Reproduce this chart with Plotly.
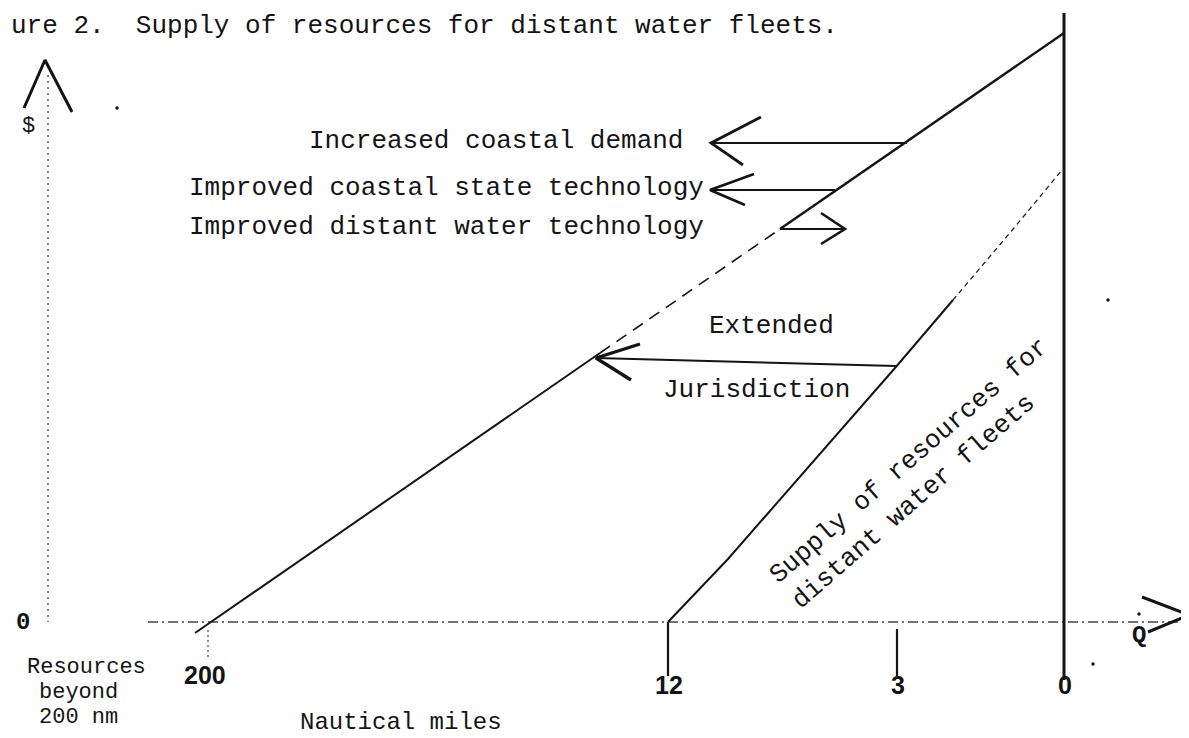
import plotly.graph_objects as go

# ---- diagram geometry (horizontal position, vertical position measured downward) ----
# supply line 1 (upper, "Resources beyond 200 nm" to top of the 0-mile line)
sup1_solid_low_x = [187, 592]
sup1_solid_low_y = [625, 345]
sup1_dash_x = [592, 772]
sup1_dash_y = [345, 221]
sup1_solid_high_x = [772, 1056]
sup1_solid_high_y = [221, 25]

# supply line 2 (from 12 nm)
sup2_solid_x = [660, 720, 887, 945]
sup2_solid_y = [614, 551, 360, 292]
sup2_dot_x = [945, 1006, 1054]
sup2_dot_y = [292, 220, 162]

# vertical boundary at 0 nm
zero_x = [1056, 1056]
zero_y = [5, 672]

# axes
yaxis_x = [40, 40]
yaxis_y = [67, 614]
xaxis_x = [140, 1178]
xaxis_y = [614, 614]

# tick marks along the nautical-miles axis
tick_labels = ["200", "12", "3", "0"]
tick_pos = [200, 660, 889, 1056]
tick_label_y = [667, 677, 677, 677]

# shift arrows
shift_labels = ["Increased coastal demand",
                "Improved coastal state technology",
                "Improved distant water technology"]
shift_label_x = [677, 179, 179]
shift_label_anchor = ["right", "left", "left"]
shift_y = [135, 182, 221]
shift_from = [899, 827, 772]
shift_to = [703, 702, 837]

ej_from = (888, 358)
ej_to = (588, 350)

caption_lines = ["Resources", "beyond", "200 nm"]
caption_x = [17, 29, 29]
caption_y = [659, 684, 709]

INK = "#141414"
MONO = "Liberation Mono, Courier New, monospace"
FS = 26

fig = go.Figure()


def seg(xs, ys, width=2.0, dash="solid", color=INK):
    fig.add_trace(go.Scatter(x=xs, y=ys, mode="lines",
                             line=dict(color=color, width=width, dash=dash),
                             hoverinfo="skip", showlegend=False))


# axes
seg(yaxis_x, yaxis_y, width=1.3, dash="2px,4px", color="#444")
seg(xaxis_x, xaxis_y, width=1.3, dash="10px,4px,2px,4px", color="#444")

# y-axis arrowhead (^) and x-axis arrowhead (>)
seg([16, 37, 64], [100, 52, 104], width=3)
seg([1134, 1181, 1140], [589, 607, 624], width=3)

# vertical 0-mile line
seg(zero_x, zero_y, width=3)

# supply line 1
seg(sup1_solid_low_x, sup1_solid_low_y, width=2)
seg(sup1_dash_x, sup1_dash_y, width=1.6, dash="12px,8px")
seg(sup1_solid_high_x, sup1_solid_high_y, width=2.4)

# supply line 2
seg(sup2_solid_x, sup2_solid_y, width=2)
seg(sup2_dot_x, sup2_dot_y, width=1.2, dash="5px,4px")

# ticks
seg([tick_pos[0], tick_pos[0]], [622, 652], width=1.2, dash="2px,3px", color="#444")
seg([tick_pos[1], tick_pos[1]], [614, 668], width=2.2)
seg([tick_pos[2], tick_pos[2]], [621, 668], width=2.2)

# shift arrows
for yv, xf, xt in zip(shift_y, shift_from, shift_to):
    seg([xf, xt], [yv, yv], width=1.8)
seg([753, 703, 735], [109, 135, 157], width=2.8)
seg([746, 702, 737], [166, 182, 197], width=2.6)
seg([813, 837, 813], [205, 221, 236], width=2.6)

# extended jurisdiction arrow
seg([ej_from[0], ej_to[0]], [ej_from[1], ej_to[1]], width=2)
seg([632, 588, 623], [336, 350, 372], width=3.4)

# stray specks from the original scan
fig.add_trace(go.Scatter(x=[109, 1085, 1131, 1100], y=[100, 656, 606, 292], mode="markers",
                         marker=dict(color=INK, size=3.5), hoverinfo="skip", showlegend=False))

ann = []


def txt(x, y, s, xanchor="left", yanchor="middle", size=FS, family=MONO, angle=0,
        align="left", weight="normal"):
    ann.append(dict(x=x, y=y, xref="x", yref="y", text=s, showarrow=False,
                    xanchor=xanchor, yanchor=yanchor, textangle=angle, align=align,
                    font=dict(family=family, size=size, color=INK, weight=weight)))


txt(0.5, 0.5, "ure 2.&nbsp; Supply of resources for distant water fleets.", yanchor="top")
for s, xl, anc, yv in zip(shift_labels, shift_label_x, shift_label_anchor, shift_y):
    txt(xl, yv - 2, s, xanchor=anc)
txt(763, 318, "Extended", xanchor="center")
txt(748, 382, "Jurisdiction", xanchor="center")
txt(912, 466, "Supply of resources for<br>distant water fleets", xanchor="center",
    angle=-41, align="left")

# axis symbols
txt(20, 118, "$", xanchor="center", size=22)
txt(15, 614, "0", xanchor="center", size=24, weight="bold")
txt(1131, 627, "Q", xanchor="center", size=24, weight="bold")

# tick labels
for lab, xp, yp in zip(tick_labels, tick_pos, tick_label_y):
    txt(xp - 3 if lab == "200" else xp + 1, yp, lab, xanchor="center", size=25,
        family="Liberation Sans Narrow, Liberation Sans, sans-serif", weight="bold")

# axis captions
for s, xl, yv in zip(caption_lines, caption_x, caption_y):
    txt(xl, yv, s, size=22)
txt(290, 714, "Nautical miles", size=24)

fig.update_layout(
    width=1189, height=738, autosize=False,
    margin=dict(l=0, r=0, t=0, b=0),
    paper_bgcolor="white", plot_bgcolor="white",
    xaxis=dict(range=[0, 1189], visible=False, fixedrange=True),
    yaxis=dict(range=[738, 0], visible=False, fixedrange=True),
    annotations=ann, showlegend=False,
)

fig.write_html("out.html")
